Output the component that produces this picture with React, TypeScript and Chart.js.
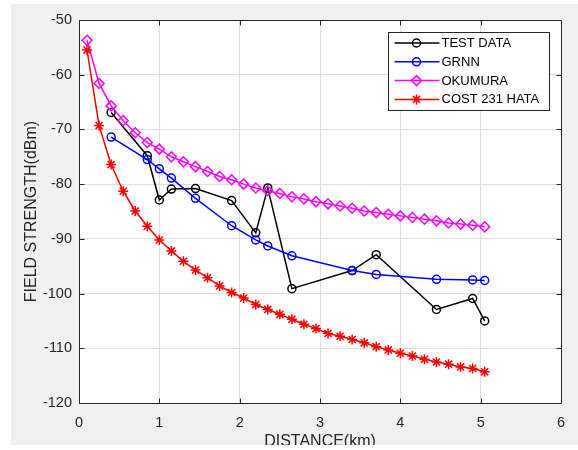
import React, { useEffect, useRef } from 'react';
import { Chart, registerables } from 'chart.js';
import { drawPoint } from 'chart.js/helpers';

Chart.register(...registerables);

// ---- data ----
const modelDistance = [
  0.1, 0.25, 0.4, 0.55, 0.7, 0.85, 1.0, 1.15, 1.3, 1.45, 1.6, 1.75, 1.9, 2.05, 2.2, 2.35, 2.5,
  2.65, 2.8, 2.95, 3.1, 3.25, 3.4, 3.55, 3.7, 3.85, 4.0, 4.15, 4.3, 4.45, 4.6, 4.75, 4.9, 5.05,
];
const okumura = [
  -53.7, -61.6, -65.7, -68.4, -70.6, -72.4, -73.6, -75.0, -75.9, -76.8, -77.7, -78.6, -79.2,
  -80.0, -80.7, -81.2, -81.7, -82.3, -82.7, -83.2, -83.6, -84.0, -84.4, -84.9, -85.2, -85.5,
  -85.8, -86.1, -86.4, -86.7, -87.1, -87.3, -87.5, -87.8,
];
const cost231Hata = [
  -55.5, -69.3, -76.4, -81.3, -84.9, -87.7, -90.2, -92.2, -94.1, -95.7, -97.1, -98.6, -99.8,
  -100.8, -102.0, -102.9, -103.8, -104.7, -105.6, -106.4, -107.3, -107.8, -108.4, -109.0,
  -109.7, -110.3, -110.9, -111.4, -112.0, -112.5, -112.9, -113.4, -113.7, -114.3,
];
const measuredDistance = [0.4, 0.85, 1.0, 1.15, 1.45, 1.9, 2.2, 2.35, 2.65, 3.4, 3.7, 4.45, 4.9, 5.05];
const testData = [-66.9, -74.8, -82.9, -80.9, -80.8, -83.0, -88.9, -80.7, -99.1, -95.8, -92.9, -102.9, -100.9, -105.0];
const grnn = [-71.4, -75.5, -77.2, -78.9, -82.6, -87.6, -90.2, -91.3, -93.1, -95.8, -96.5, -97.4, -97.5, -97.6];

const seriesLabels = ['TEST DATA', 'GRNN', 'OKUMURA', 'COST 231 HATA'];
const xTickValues = [0, 1, 2, 3, 4, 5, 6];
const yTickValues = [-120, -110, -100, -90, -80, -70, -60, -50];

const FONT = "'Liberation Sans', Arial, Helvetica, sans-serif";
const AXIS_COLOR = '#262626';

const toPoints = (xs: number[], ys: number[]) => xs.map((x, i) => ({ x, y: ys[i] }));

const framePlugin = {
  id: 'matlabFrame',
  beforeDraw(chart: any) {
    const { ctx, chartArea: a } = chart;
    ctx.save();
    ctx.fillStyle = '#ffffff';
    ctx.fillRect(a.left, a.top, a.right - a.left, a.bottom - a.top);
    ctx.restore();
  },
  afterDraw(chart: any) {
    const { ctx, chartArea: a, scales } = chart;
    const xs = scales.x;
    const ys = scales.y;
    const L = Math.round(a.left) + 0.5;
    const R = Math.round(a.right) + 0.5;
    const T = Math.round(a.top) + 0.5;
    const B = Math.round(a.bottom) + 0.5;
    ctx.save();
    ctx.strokeStyle = AXIS_COLOR;
    ctx.lineWidth = 1;
    ctx.beginPath();
    ctx.moveTo(L, T);
    ctx.lineTo(R, T);
    ctx.lineTo(R, B);
    ctx.lineTo(L, B);
    ctx.closePath();
    const tl = 5;
    xs.ticks.forEach((t: any) => {
      const px = Math.round(xs.getPixelForValue(t.value)) + 0.5;
      ctx.moveTo(px, B);
      ctx.lineTo(px, B - tl);
      ctx.moveTo(px, T);
      ctx.lineTo(px, T + tl);
    });
    ys.ticks.forEach((t: any) => {
      const py = Math.round(ys.getPixelForValue(t.value)) + 0.5;
      ctx.moveTo(L, py);
      ctx.lineTo(L + tl, py);
      ctx.moveTo(R, py);
      ctx.lineTo(R - tl, py);
    });
    ctx.stroke();

    // legend box (top-right inside the axes)
    const boxW = 161;
    const boxH = 78;
    const bx = Math.round(a.right) - 12 - boxW + 0.5;
    const by = Math.round(a.top) + 12 + 0.5;
    ctx.fillStyle = '#ffffff';
    ctx.fillRect(bx, by, boxW, boxH);
    ctx.strokeStyle = AXIS_COLOR;
    ctx.strokeRect(bx, by, boxW, boxH);
    ctx.font = `13px ${FONT}`;
    ctx.textBaseline = 'middle';
    ctx.textAlign = 'left';
    chart.data.datasets.forEach((ds: any, i: number) => {
      const cy = by + 10.5 + i * 18.8;
      ctx.strokeStyle = ds.borderColor;
      ctx.lineWidth = ds.borderWidth;
      ctx.beginPath();
      ctx.moveTo(bx + 6, cy);
      ctx.lineTo(bx + 51, cy);
      ctx.stroke();
      ctx.fillStyle = 'rgba(0,0,0,0)';
      ctx.strokeStyle = ds.pointBorderColor;
      ctx.lineWidth = ds.pointBorderWidth;
      drawPoint(ctx, { pointStyle: ds.pointStyle, radius: ds.pointRadius, rotation: 0, borderWidth: ds.pointBorderWidth } as any, bx + 28, cy);
      ctx.fillStyle = '#000000';
      ctx.fillText(ds.label, bx + 53, cy + 0.5);
    });
    ctx.restore();
  },
};

export default function App() {
  const canvasRef = useRef<HTMLCanvasElement | null>(null);

  useEffect(() => {
    if (!canvasRef.current) return;
    const mk = (label: string, data: any[], color: string, style: string, radius: number, order: number) => ({
      label,
      data,
      showLine: true,
      borderColor: color,
      borderWidth: 1.5,
      pointStyle: style,
      pointRadius: radius,
      pointHoverRadius: radius,
      pointBorderColor: color,
      pointBackgroundColor: 'rgba(0,0,0,0)',
      pointBorderWidth: 1.5,
      tension: 0,
      order,
    });
    const chart = new Chart(canvasRef.current, {
      type: 'scatter',
      data: {
        datasets: [
          mk(seriesLabels[0], toPoints(measuredDistance, testData), '#000000', 'circle', 4, 4),
          mk(seriesLabels[1], toPoints(measuredDistance, grnn), '#0000ff', 'circle', 4, 3),
          mk(seriesLabels[2], toPoints(modelDistance, okumura), '#ff00ff', 'rectRot', 5, 2),
          mk(seriesLabels[3], toPoints(modelDistance, cost231Hata), '#ff0000', 'star', 5, 1),
        ] as any,
      },
      options: {
        responsive: false,
        animation: false,
        events: [],
        layout: { padding: { top: 16, right: 17, left: 0, bottom: 0 } },
        plugins: {
          legend: { display: false },
          tooltip: { enabled: false },
        },
        scales: {
          x: {
            type: 'linear',
            min: 0,
            max: 6,
            afterBuildTicks: (scale: any) => {
              scale.ticks = xTickValues.map((v) => ({ value: v }));
            },
            afterFit: (scale: any) => {
              scale.height = 42;
            },
            ticks: {
              padding: 11,
              color: AXIS_COLOR,
              font: { family: FONT, size: 14.5 },
              maxRotation: 0,
              autoSkip: false,
            },
            grid: { color: '#dedede', lineWidth: 1, drawTicks: false },
            border: { display: false },
            title: {
              display: true,
              text: 'DISTANCE(km)',
              color: AXIS_COLOR,
              font: { family: FONT, size: 16, lineHeight: 0.375 },
              padding: 0,
            },
          },
          y: {
            type: 'linear',
            min: -120,
            max: -50,
            afterBuildTicks: (scale: any) => {
              scale.ticks = yTickValues.map((v) => ({ value: v }));
            },
            afterFit: (scale: any) => {
              scale.width = 68;
            },
            ticks: {
              padding: 7,
              color: AXIS_COLOR,
              font: { family: FONT, size: 14.5 },
              autoSkip: false,
            },
            grid: { color: '#dedede', lineWidth: 1, drawTicks: false },
            border: { display: false },
            title: {
              display: true,
              text: 'FIELD STRENGTH(dBm)',
              color: AXIS_COLOR,
              font: { family: FONT, size: 16, lineHeight: 1.2 },
              padding: { top: 10.5, bottom: 0 },
            },
          },
        },
      } as any,
      plugins: [framePlugin],
    });
    return () => chart.destroy();
  }, []);

  return (
    <div
      style={{
        position: 'absolute',
        left: 11,
        top: 4,
        width: 567,
        height: 441,
        background: '#f0f0f0',
        overflow: 'hidden',
      }}
    >
      <canvas ref={canvasRef} width={567} height={441} style={{ display: 'block' }} />
    </div>
  );
}
